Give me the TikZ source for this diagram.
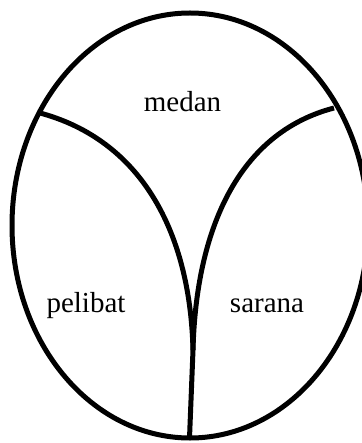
\documentclass[tikz,border=0pt]{standalone}
\usepackage{fontspec}
\setmainfont{Liberation Serif}
\begin{document}
\begin{tikzpicture}[x=1pt,y=-1pt,
  outline/.style={line width=5pt,draw=black},
  lbl/.style={anchor=base,inner sep=0pt,font=\fontsize{29}{31}\selectfont}]
\useasboundingbox (0,0) rectangle (361,443);
\fill[white] (0,0) rectangle (361,443);
\draw[outline] (190,225.5) ellipse [x radius=178pt, y radius=212.5pt];
\coordinate (lstart) at (40,113);
\coordinate (rstart) at (334,108);
\coordinate (join) at (193,350);
\coordinate (base) at (189.5,438);
\draw[outline] (lstart) .. controls (140,140) and (190,230) .. (join);
\draw[outline] (rstart) .. controls (238,133) and (196,230) .. (join);
\draw[outline] (join) -- (base);
\node[lbl] (medan) at (182.5,112) {medan};
\node[lbl] (pelibat) at (86,312) {pelibat};
\node[lbl] (sarana) at (267,312) {sarana};
\end{tikzpicture}
\end{document}
